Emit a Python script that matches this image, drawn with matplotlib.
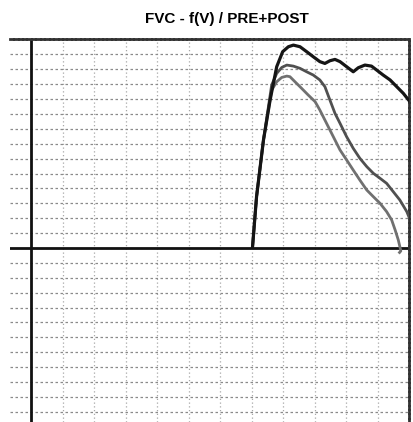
import matplotlib as mpl
mpl.use('Agg')
import matplotlib.pyplot as plt

# flow-volume loop, in grid units (x = volume, y = flow)
pre_vol = [7.03, 7.16, 7.38, 7.59, 7.80, 7.99, 8.17, 8.33, 8.54, 8.75, 8.96, 9.17,
           9.33, 9.49, 9.65, 9.81, 10.02, 10.23, 10.39, 10.60, 10.81, 10.97, 11.18,
           11.40, 11.61, 11.82, 12.03]
pre_flow = [0.0, 3.44, 7.25, 9.93, 12.17, 13.18, 13.51, 13.62, 13.51, 13.18, 12.84,
            12.51, 12.39, 12.57, 12.66, 12.51, 12.17, 11.83, 12.10, 12.28, 12.21,
            11.95, 11.61, 11.28, 10.83, 10.38, 9.82]

post1_vol = [7.03, 7.16, 7.38, 7.64, 7.80, 7.96, 8.12, 8.33, 8.54, 8.75, 8.96, 9.17,
             9.33, 9.49, 9.65, 9.81, 10.02, 10.23, 10.44, 10.66, 10.87, 11.08, 11.29,
             11.50, 11.71, 11.93, 12.08]
post1_flow = [0.0, 3.44, 7.25, 10.94, 11.72, 12.12, 12.28, 12.21, 12.06, 11.83,
              11.61, 11.28, 10.83, 9.93, 9.04, 8.37, 7.47, 6.69, 6.02, 5.46, 5.01,
              4.68, 4.34, 3.78, 3.22, 2.44, 1.66]

post2_vol = [7.03, 7.16, 7.38, 7.64, 7.80, 7.96, 8.12, 8.22, 8.38, 8.59, 8.80, 9.02,
             9.17, 9.33, 9.49, 9.65, 9.81, 10.02, 10.23, 10.44, 10.66, 10.87, 11.08,
             11.29, 11.45, 11.56, 11.66, 11.71, 11.74, 11.70]
post2_flow = [0.0, 3.44, 7.25, 10.60, 11.16, 11.45, 11.54, 11.50, 11.16, 10.72,
              10.27, 9.82, 9.26, 8.59, 7.92, 7.25, 6.58, 5.91, 5.23, 4.56, 3.89,
              3.44, 3.00, 2.44, 1.88, 1.21, 0.54, 0.09, -0.20, -0.30]

x_grid = list(range(1, 12))
y_grid = list(range(-11, 14))

fig = plt.figure(figsize=(4.13, 4.22), dpi=100)
ax = fig.add_axes([10 / 413, 0, 399 / 413, 383 / 422])
ax.set_xlim(-0.667, 12.0)
ax.set_ylim(-11.68, 14.03)

for x in x_grid:
    ax.axvline(x, color='#a8a8a8', lw=0.9, ls=(0, (1, 2)), zorder=1)
for y in y_grid:
    ax.axhline(y, color='#8a8a8a', lw=0.9, ls=(0, (2, 2)), zorder=1)

ax.axhline(0, color='#111111', lw=2, zorder=2)
ax.axvline(0, color='#111111', lw=2, zorder=2)

ax.plot(post2_vol, post2_flow, color='#707070', lw=2, zorder=3)
ax.plot(post1_vol, post1_flow, color='#505050', lw=2, zorder=3)
ax.plot(pre_vol, pre_flow, color='#151515', lw=2.3, zorder=4)

ax.set_xticks([])
ax.set_yticks([])
for s in ['left', 'bottom']:
    ax.spines[s].set_visible(False)
for s in ['top', 'right']:
    ax.spines[s].set_linestyle((0, (1, 0.6)))
    ax.spines[s].set_linewidth(2)
    ax.spines[s].set_color('#333333')

fig.text(0.55, 0.955, 'FVC - f(V) / PRE+POST', ha='center', va='center',
         fontsize=11, fontweight='bold', family=['Liberation Sans', 'DejaVu Sans'])

plt.savefig('out.png', dpi=100)
